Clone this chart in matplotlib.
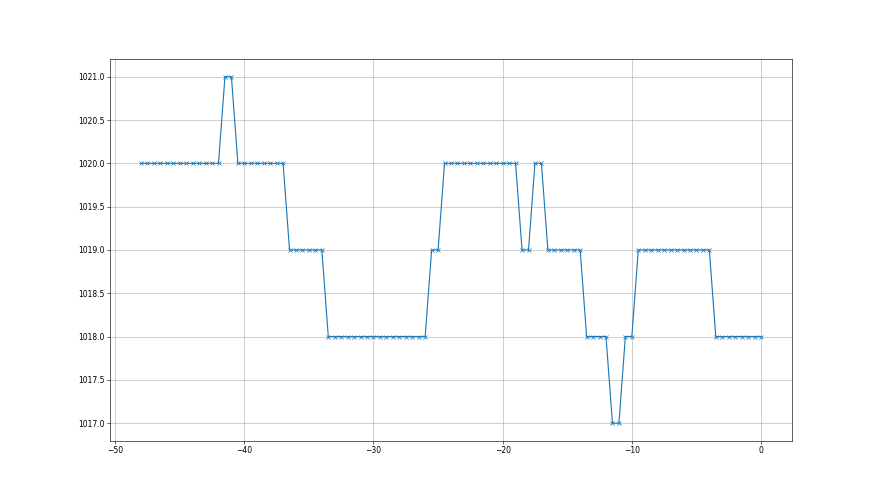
import numpy as np
import matplotlib
matplotlib.use('Agg')
import matplotlib.pyplot as plt

# time offsets (half-step readings) and pressure values
t = np.arange(-48, 0.5, 0.5)

pressure = (
    [1020] * 13      # -48 .. -42
    + [1021] * 2     # -41.5, -41
    + [1020] * 8     # -40.5 .. -37
    + [1019] * 6     # -36.5 .. -34
    + [1018] * 16    # -33.5 .. -26
    + [1019] * 2     # -25.5, -25
    + [1020] * 12    # -24.5 .. -19
    + [1019] * 2     # -18.5, -18
    + [1020] * 2     # -17.5, -17
    + [1019] * 6     # -16.5 .. -14
    + [1018] * 4     # -13.5 .. -12
    + [1017] * 2     # -11.5, -11
    + [1018] * 2     # -10.5, -10
    + [1019] * 12    # -9.5 .. -4
    + [1018] * 8     # -3.5 .. 0
)

fig, ax = plt.subplots(figsize=(16, 9), dpi=55)
ax.plot(t, pressure, marker='x')
ax.grid(True)
fig.savefig('out.png', dpi=55)
